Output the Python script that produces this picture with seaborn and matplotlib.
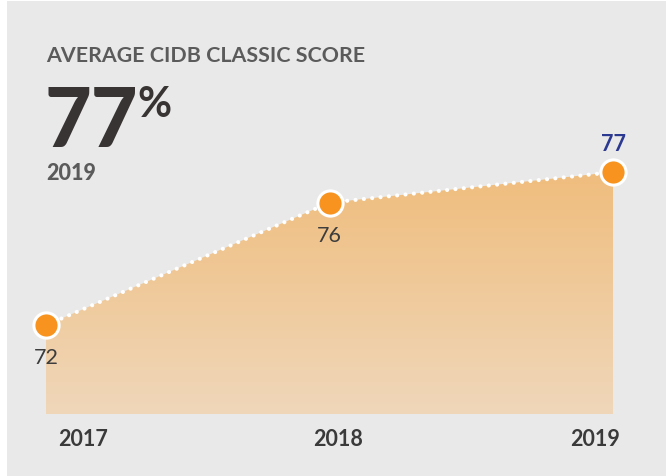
import numpy as np
import matplotlib
matplotlib.use('Agg')
import matplotlib.pyplot as plt
import seaborn as sns
from matplotlib.colors import LinearSegmentedColormap
from matplotlib.patches import Rectangle

# Dados do gráfico
anos = ['2017', '2018', '2019']
pontuacao = [72, 76, 77]
titulo = 'AVERAGE CIDB CLASSIC SCORE'
destaque = '77'
ano_destaque = '2019'

sns.set_style('white')
plt.rcParams['font.family'] = ['Lato', 'DejaVu Sans']

fig = plt.figure(figsize=(6.66, 4.77), dpi=100, facecolor='white')
# painel cinza
fig.patches.append(Rectangle((7 / 666, 0), 1 - 7 / 666, 475 / 477, transform=fig.transFigure,
                             facecolor='#e9e9e9', edgecolor='none', zorder=-5))

ax = fig.add_axes([46 / 666, 62 / 477, (613 - 46) / 666, (415 - 140) / 477])
ax.set_facecolor('none')
ax.set_zorder(2)
x = np.arange(len(anos))
ymin, ymax = 69.1, 78.08

# preenchimento em degradê
poly = ax.fill_between(x, pontuacao, ymin, color='none', lw=0)
cmap = LinearSegmentedColormap.from_list('grad', ['#efd7ba', '#f0bd7d'])
grad = np.linspace(0, 1, 256).reshape(-1, 1)
img = ax.imshow(grad, cmap=cmap, aspect='auto', origin='lower',
                extent=[0, 2, ymin, max(pontuacao)], zorder=1)
path = poly.get_paths()[0]
img.set_clip_path(path, transform=ax.transData)
ax.set_xlim(0, 2)
ax.set_ylim(ymin, ymax)

# linha pontilhada
sns.lineplot(x=x, y=pontuacao, ax=ax, color='white', lw=3, zorder=3,
             dashes=False, clip_on=False)
ax.lines[-1].set_dashes((0.01, 2.0))
ax.lines[-1].set_dash_capstyle('round')

# marcadores
sns.scatterplot(x=x, y=pontuacao, ax=ax, s=330, color='#f7931e', edgecolor='white',
                linewidth=2.2, zorder=4, clip_on=False)

# rótulos dos valores
for i, v in enumerate(pontuacao):
    if i == len(pontuacao) - 1:
        ax.annotate(str(v), (i, v), xytext=(0, 13), textcoords='offset points',
                    ha='center', va='bottom', fontsize=15.5, fontweight='bold',
                    color='#2b3990', annotation_clip=False)
    else:
        ax.annotate(str(v), (i, v), xytext=(0, -16), textcoords='offset points',
                    ha='center', va='top', fontsize=15.5, color='#3d3d3d',
                    annotation_clip=False)

# rótulos do eixo x
alinh = [('left', 9), ('center', 6), ('right', 5)]
for i, ano in enumerate(anos):
    ha, dx = alinh[i]
    ax.annotate(ano, (i, ymin), xytext=(dx, -10), textcoords='offset points',
                ha=ha, va='top', fontsize=15.5, fontweight='bold', color='#3a3a3a',
                annotation_clip=False)

ax.set_xticks([])
ax.set_yticks([])
sns.despine(ax=ax, left=True, bottom=True)

# título e destaque
fig.text(46 / 666, 1 - 56 / 477, titulo, ha='left', va='center', fontsize=15.4,
         fontweight='bold', color='#5b5b5b')
fig.text(45 / 666, 1 - 147 / 477, destaque, ha='left', va='baseline', fontsize=58,
         fontweight='black', color='#393434')
fig.text(137 / 666, 1 - 117 / 477, '%', ha='left', va='baseline', fontsize=30,
         fontweight='bold', color='#393434')
fig.text(46 / 666, 1 - 173 / 477, ano_destaque, ha='left', va='center', fontsize=15.5,
         fontweight='black', color='#5b5b5b')

fig.savefig('out.png', dpi=100, facecolor=fig.get_facecolor())
